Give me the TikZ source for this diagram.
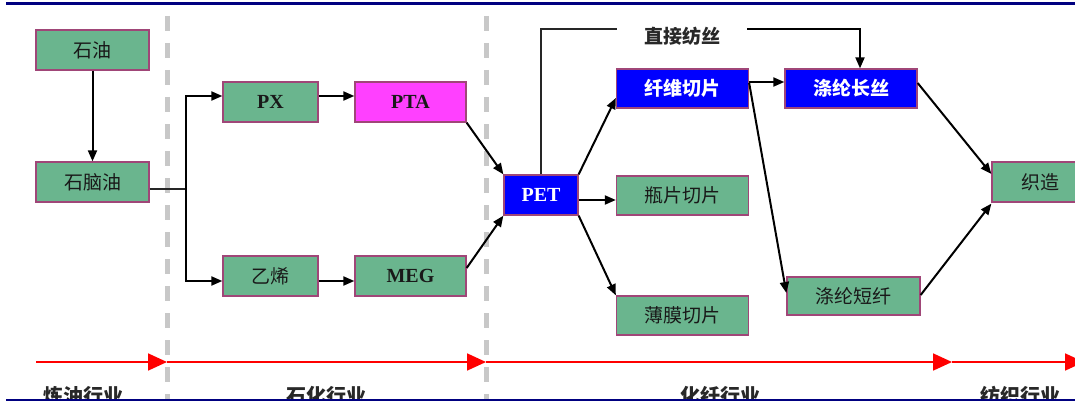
\documentclass[tikz,border=0pt]{standalone}
\usepackage{fontspec}
\setmainfont{Liberation Serif}
\newfontfamily\cjk{Noto Sans CJK SC}
\usetikzlibrary{arrows.meta}
\definecolor{boxgreen}{RGB}{106,181,142}
\definecolor{boxedge}{RGB}{160,70,120}
\definecolor{boxpink}{RGB}{255,64,255}
\definecolor{boxblue}{RGB}{0,0,255}
\definecolor{navyline}{RGB}{0,0,128}
\definecolor{dashgray}{RGB}{200,200,200}
\definecolor{labelgray}{RGB}{40,40,40}
\tikzset{
  box/.style={draw=boxedge, line width=1.3pt, fill=boxgreen, rectangle, inner sep=0pt, text=black!90},
  cbox/.style={box, font=\fontsize{19}{19}\selectfont\cjk},
  ebox/.style={box, font=\fontsize{20}{20}\selectfont\bfseries},
  bluebox/.style={fill=boxblue, text=white},
  arr/.style={draw=black, line width=2pt, -{Triangle[length=11pt,width=9pt]}},
  plain/.style={draw=black!85, line width=1.6pt},
  redarr/.style={draw=red, line width=1.8pt, -{Triangle[length=19pt,width=17pt]}},
  sector/.style={font=\fontsize{20}{20}\selectfont\cjk\bfseries, text=labelgray},
  divider/.style={draw=dashgray, line width=5pt, dash pattern=on 15pt off 12pt}
}
\begin{document}
\begin{tikzpicture}[x=1pt,y=-1pt]
\useasboundingbox (0,0) rectangle (1075,401);
\fill[white] (0,0) rectangle (1075,401);
% dividers
\coordinate (v1t) at (167.5,16); \coordinate (v1b) at (167.5,401);
\coordinate (v2t) at (486,16); \coordinate (v2b) at (486,401);
\draw[divider] (v1t) -- (v1b);
\draw[divider] (v2t) -- (v2b);
% boxes
\node[cbox, minimum width=113pt, minimum height=40pt] (oil) at (92.5,50) {石油};
\node[cbox, minimum width=113pt, minimum height=40pt] (naph) at (92.5,182) {石脑油};
\node[ebox, minimum width=95pt, minimum height=40pt] (px) at (270.5,102) {PX};
\node[ebox, fill=boxpink, minimum width=111pt, minimum height=40pt] (pta) at (410.5,102) {PTA};
\node[cbox, minimum width=95pt, minimum height=40pt] (eth) at (270.5,276) {乙烯};
\node[ebox, minimum width=111pt, minimum height=40pt] (meg) at (410.5,276) {MEG};
\node[ebox, bluebox, minimum width=74pt, minimum height=40pt] (pet) at (541,195) {PET};
\node[cbox, bluebox, font=\fontsize{19}{19}\selectfont\cjk\bfseries, minimum width=132pt, minimum height=39pt] (fiber) at (682.5,88.5) {纤维切片};
\node[cbox, minimum width=132pt, minimum height=39pt] (bottle) at (682.5,195.5) {瓶片切片};
\node[cbox, minimum width=132pt, minimum height=39pt] (film) at (682.5,315.5) {薄膜切片};
\node[cbox, bluebox, font=\fontsize{19}{19}\selectfont\cjk\bfseries, minimum width=132pt, minimum height=39pt] (fil) at (851,88.5) {涤纶长丝};
\node[cbox, minimum width=133pt, minimum height=38pt] (staple) at (853.5,296) {涤纶短纤};
\node[cbox, minimum width=96pt, minimum height=40pt] (weave) at (1040,182) {织造};
% direct spinning label
\node[font=\fontsize{19}{19}\selectfont\cjk\bfseries, text=labelgray] (direct) at (682,36) {直接纺丝};
\coordinate (d1) at (617,29);
\coordinate (d2) at (747,29);
% connectors
\draw[arr] (oil.south) -- (naph.north);
\coordinate (j) at (186,189);
\draw[plain] ([yshift=-7pt]naph.east) -- (j);
\draw[arr] (j) |- ([yshift=6pt]px.west);
\draw[arr] (j) |- ([yshift=-5pt]eth.west);
\draw[arr] ([yshift=6pt]px.east) -- ([yshift=6pt]pta.west);
\draw[arr] ([yshift=-5pt]eth.east) -- ([yshift=-5pt]meg.west);
\draw[arr] (pta.south east) -- (pet.north west);
\draw[arr] ([yshift=8pt]meg.east) -- (pet.south west);
\draw[arr] (pet.north east) -- ([yshift=-9.5pt]fiber.west);
\draw[arr] ([yshift=-5pt]pet.east) -- ([yshift=-4.5pt]bottle.west);
\draw[arr] (pet.south east) -- (film.north west);
\draw[plain] (pet.north) |- (d1);
\draw[arr] (d2) -| ([xshift=9pt]fil.north);
\draw[arr] ([yshift=6.5pt]fiber.east) -- ([yshift=6.5pt]fil.west);
\draw[arr] ([yshift=5.5pt]fiber.east) -- ([yshift=3pt]staple.west);
\draw[arr] ([yshift=5.5pt]fil.east) -- ([yshift=8pt]weave.west);
\draw[arr] ([yshift=1pt]staple.east) -- ([yshift=-1pt]weave.south west);
% red timeline
\coordinate (r0) at (36,362);
\coordinate (r1) at (167,362);
\coordinate (r2) at (486,362);
\coordinate (r3) at (952,362);
\coordinate (r4) at (1084,362);
\draw[redarr] (r0) -- (r1);
\draw[redarr] (r1) -- (r2);
\draw[redarr] (r2) -- (r3);
\draw[redarr] (r3) -- (r4);
% sector labels
\node[sector] (s1) at (83.5,396) {炼油行业};
\node[sector] (s2) at (326,396) {石化行业};
\node[sector] (s3) at (720,396) {化纤行业};
\node[sector] (s4) at (1020,396) {纺织行业};
% frame lines
\coordinate (t0) at (6,3.5); \coordinate (t1) at (1075,3.5);
\coordinate (b0) at (6,400); \coordinate (b1) at (1075,400);
\draw[navyline, line width=3pt] (t0) -- (t1);
\draw[navyline, line width=3pt] (b0) -- (b1);
\end{tikzpicture}
\end{document}
